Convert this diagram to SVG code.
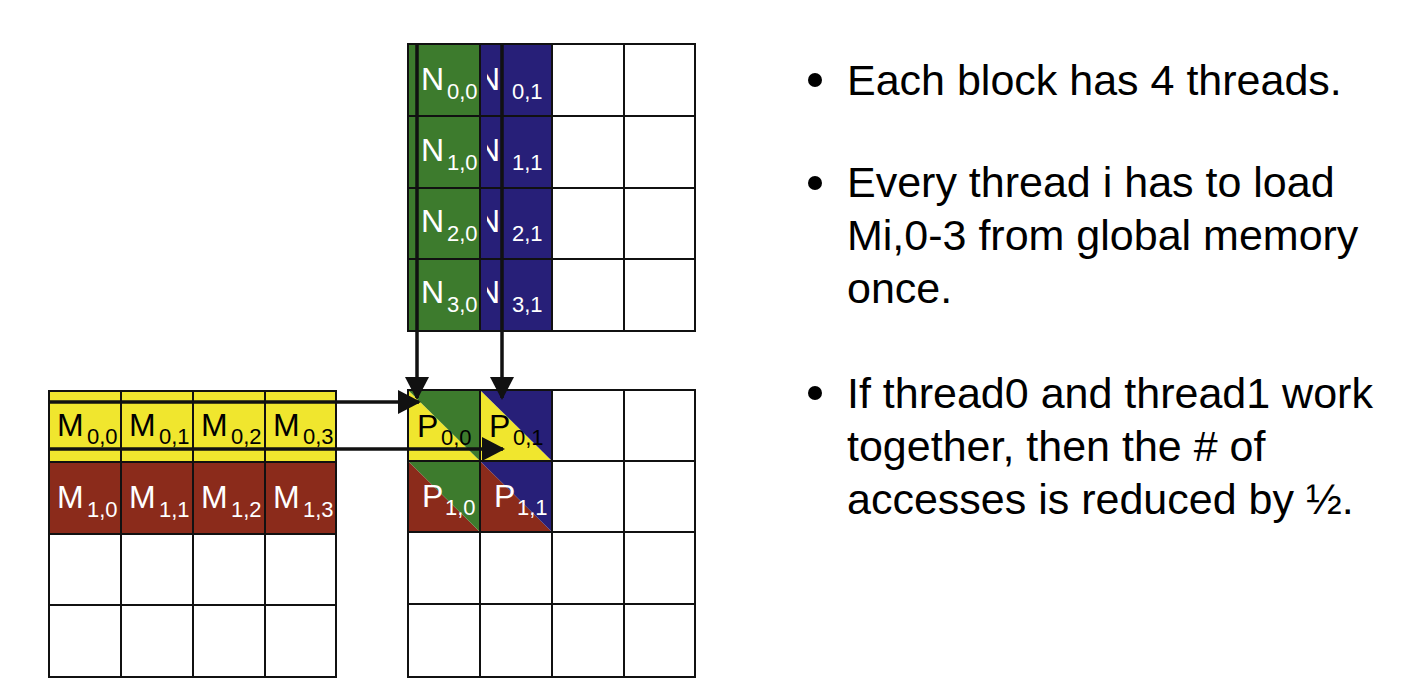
<svg xmlns="http://www.w3.org/2000/svg" width="1406" height="686" viewBox="0 0 1406 686">
  <style>
    .grid { fill: none; stroke: #111; stroke-width: 2; }
    .lbl { font-family: "Liberation Sans", Arial, sans-serif; font-size: 32px; }
    .sub { font-size: 22px; }
    .wt { fill: #ffffff; }
    .bk { fill: #000000; }
    .bullet { font-family: "Liberation Sans", Arial, sans-serif; font-size: 43px; fill: #000; }
    .conn { stroke: #111; stroke-width: 3.5; fill: none; }
  </style>
  <defs>
    <marker id="head" markerUnits="userSpaceOnUse" markerWidth="26" markerHeight="24" refX="21" refY="12" orient="auto">
      <path d="M0,0 L23,12 L0,24 Z" fill="#111"/>
    </marker>
    <clipPath id="colN1">
      <rect x="487" y="44" width="65" height="287"/>
    </clipPath>
  </defs>

  <rect width="1406" height="686" fill="#ffffff"/>

  <!-- N matrix (top) -->
  <g id="matrix-N">
    <rect x="408" y="44" width="72" height="287" fill="#3d7b2d"/>
    <rect x="480" y="44" width="72" height="287" fill="#271f78"/>
    <path class="grid" d="M408,44 H695 V331 H408 Z M480,44 V331 M552,44 V331 M624,44 V331 M408,116 H695 M408,188 H695 M408,259 H695"/>
    <g class="lbl wt">
      <text x="421" y="90">N<tspan class="sub" x="447" y="99">0,0</tspan></text>
      <text x="421" y="161">N<tspan class="sub" x="447" y="170">1,0</tspan></text>
      <text x="421" y="232">N<tspan class="sub" x="447" y="241">2,0</tspan></text>
      <text x="421" y="303">N<tspan class="sub" x="447" y="312">3,0</tspan></text>
      <g clip-path="url(#colN1)">
        <text x="477" y="90">N</text>
        <text x="477" y="161">N</text>
        <text x="477" y="232">N</text>
        <text x="477" y="303">N</text>
      </g>
      <text class="sub" x="512" y="99">0,1</text>
      <text class="sub" x="512" y="170">1,1</text>
      <text class="sub" x="512" y="241">2,1</text>
      <text class="sub" x="512" y="312">3,1</text>
    </g>
  </g>

  <!-- M matrix (left) -->
  <g id="matrix-M">
    <rect x="49" y="391" width="287" height="71" fill="#f0e62e"/>
    <rect x="49" y="462" width="287" height="72" fill="#8b2b1b"/>
    <path class="grid" d="M49,391 H336 V677 H49 Z M121,391 V677 M193,391 V677 M265,391 V677 M49,462 H336 M49,534 H336 M49,605 H336"/>
    <g class="lbl bk">
      <text x="57" y="436">M<tspan class="sub" x="87" y="444">0,0</tspan></text>
      <text x="129" y="436">M<tspan class="sub" x="159" y="444">0,1</tspan></text>
      <text x="201" y="436">M<tspan class="sub" x="231" y="444">0,2</tspan></text>
      <text x="273" y="436">M<tspan class="sub" x="303" y="444">0,3</tspan></text>
    </g>
    <g class="lbl wt">
      <text x="57" y="508">M<tspan class="sub" x="87" y="517">1,0</tspan></text>
      <text x="129" y="508">M<tspan class="sub" x="159" y="517">1,1</tspan></text>
      <text x="201" y="508">M<tspan class="sub" x="231" y="517">1,2</tspan></text>
      <text x="273" y="508">M<tspan class="sub" x="303" y="517">1,3</tspan></text>
    </g>
  </g>

  <!-- P matrix (result) -->
  <g id="matrix-P">
    <polygon points="408,390 408,461 480,461" fill="#f0e62e"/>
    <polygon points="408,390 480,390 480,461" fill="#3d7b2d"/>
    <polygon points="480,390 480,461 552,461" fill="#f0e62e"/>
    <polygon points="480,390 552,390 552,461" fill="#271f78"/>
    <polygon points="408,461 408,532 480,532" fill="#8b2b1b"/>
    <polygon points="408,461 480,461 480,532" fill="#3d7b2d"/>
    <polygon points="480,461 480,532 552,532" fill="#8b2b1b"/>
    <polygon points="480,461 552,461 552,532" fill="#271f78"/>
    <path class="grid" d="M408,390 H695 V677 H408 Z M480,390 V677 M552,390 V677 M624,390 V677 M408,461 H695 M408,532 H695 M408,604 H695"/>
    <g class="lbl bk">
      <text x="417" y="437">P<tspan class="sub" x="441" y="445">0,0</tspan></text>
      <text x="489" y="437">P<tspan class="sub" x="513" y="445">0,1</tspan></text>
    </g>
    <g class="lbl wt">
      <text x="422" y="507">P<tspan class="sub" x="445" y="515">1,0</tspan></text>
      <text x="494" y="507">P<tspan class="sub" x="517" y="515">1,1</tspan></text>
    </g>
  </g>

  <!-- connectors: rows of M and columns of N feeding the P tile -->
  <g id="connectors">
    <line class="conn" x1="49" y1="402" x2="419" y2="402" marker-end="url(#head)"/>
    <line class="conn" x1="49" y1="449" x2="503" y2="449" marker-end="url(#head)"/>
    <line class="conn" x1="417" y1="44" x2="417" y2="398" marker-end="url(#head)"/>
    <line class="conn" x1="502" y1="44" x2="502" y2="398" marker-end="url(#head)"/>
  </g>

  <!-- bullet notes -->
  <g id="notes" class="bullet">
    <circle cx="815" cy="80" r="7"/>
    <text x="847" y="95">Each block has 4 threads.</text>
    <circle cx="815" cy="183" r="7"/>
    <text x="847" y="197">Every thread i has to load</text>
    <text x="847" y="250">Mi,0-3 from global memory</text>
    <text x="847" y="303">once.</text>
    <circle cx="815" cy="393" r="7"/>
    <text x="847" y="408">If thread0 and thread1 work</text>
    <text x="847" y="461">together, then the # of</text>
    <text x="847" y="514">accesses is reduced by ½.</text>
  </g>
</svg>
